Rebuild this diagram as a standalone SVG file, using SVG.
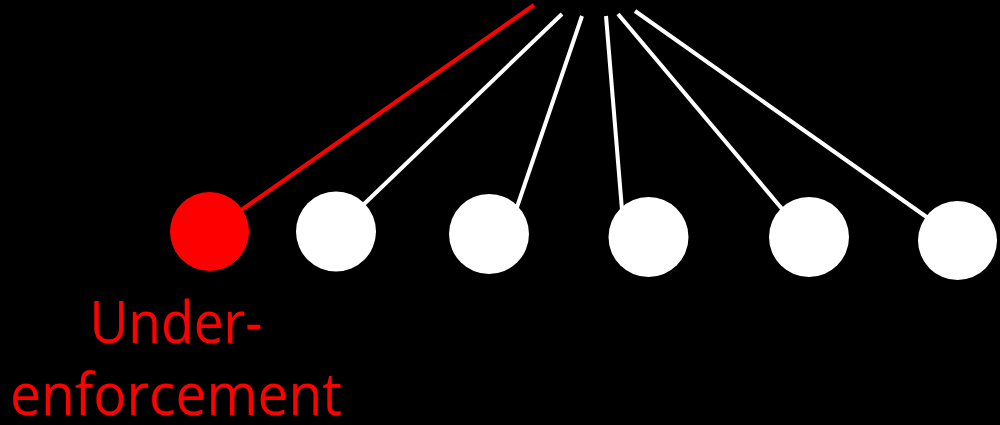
<svg xmlns="http://www.w3.org/2000/svg" width="1000" height="425" viewBox="0 0 1000 425">
<style>
.w{stroke:#fff;stroke-width:4;fill:none}
.r{stroke:#f00;stroke-width:4;fill:none}
.lbl{font-family:"Open Sans","Noto Sans",sans-serif;font-size:58px;fill:#f00;text-anchor:middle}
</style>
<rect width="1000" height="425" fill="#000"/>
<g id="connectors">
<line class="r" x1="534" y1="5" x2="240" y2="211"/>
<line class="w" x1="562" y1="14" x2="362" y2="206"/>
<line class="w" x1="582" y1="16" x2="516" y2="210"/>
<line class="w" x1="606" y1="16" x2="622" y2="210"/>
<line class="w" x1="618" y1="14" x2="783" y2="210"/>
<line class="w" x1="635" y1="11" x2="928" y2="218"/>
</g>
<g id="node1"><circle cx="209.5" cy="231.5" r="39.5" fill="#f00"/>
<text class="lbl" x="176" y="343" textLength="173" lengthAdjust="spacingAndGlyphs">Under-</text>
<text class="lbl" x="176" y="415" textLength="332" lengthAdjust="spacingAndGlyphs">enforcement</text></g>
<g id="node2"><circle cx="336" cy="231.5" r="40" fill="#fff"/></g>
<g id="node3"><circle cx="489" cy="234" r="40" fill="#fff"/></g>
<g id="node4"><circle cx="648.5" cy="237" r="40" fill="#fff"/></g>
<g id="node5"><circle cx="809" cy="237" r="40" fill="#fff"/></g>
<g id="node6"><circle cx="957.5" cy="240.5" r="39.5" fill="#fff"/></g>
</svg>
